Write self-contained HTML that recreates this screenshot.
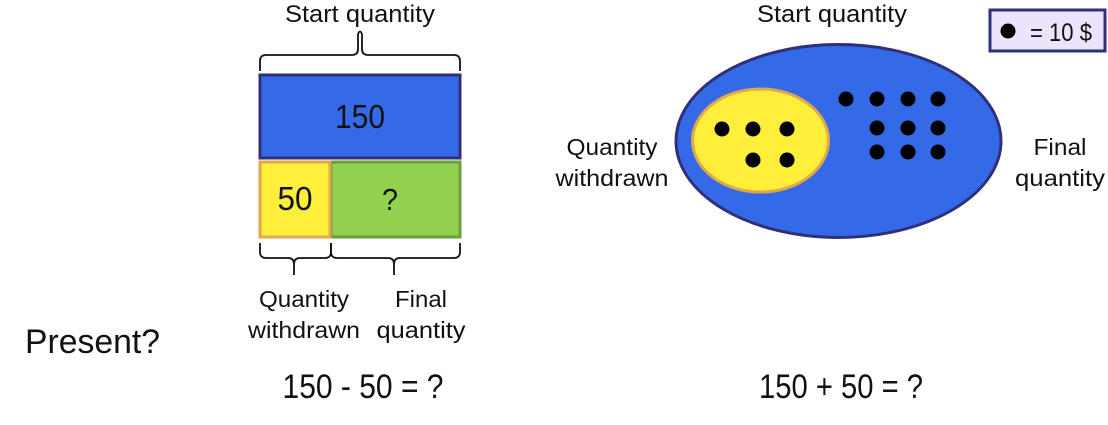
<!DOCTYPE html>
<html><head><meta charset="utf-8"><style>
html,body{margin:0;padding:0;background:#fff;}
svg{display:block;}
text{font-family:"Liberation Sans",sans-serif;fill:#111;}
</style></head><body>
<svg width="1108" height="425" viewBox="0 0 1108 425">
<path d="M260 71 V61 Q260 55 266 55 H352 Q358 55 358 49 V34 M362 34 V49 Q362 55 368 55 H454 Q460 55 460 61 V71" fill="none" stroke="#111" stroke-width="1.8"/>
<path d="M358 34 Q360 29 362 34" fill="none" stroke="#111" stroke-width="1.8"/>
<text x="360" y="22" font-size="24" text-anchor="middle" textLength="150" lengthAdjust="spacingAndGlyphs">Start quantity</text>
<rect x="260" y="75" width="200" height="83" fill="#346ae8" stroke="#2f2f7a" stroke-width="3"/>
<text x="360" y="128" font-size="33" text-anchor="middle" textLength="50" lengthAdjust="spacingAndGlyphs">150</text>
<rect x="331" y="162" width="129" height="75" fill="#92d14f" stroke="#6e9e3a" stroke-width="3"/>
<rect x="260" y="162" width="70" height="75" fill="#ffee3a" stroke="#e0a84a" stroke-width="3"/>
<text x="295" y="210" font-size="33" text-anchor="middle" textLength="35" lengthAdjust="spacingAndGlyphs">50</text>
<text x="390" y="210" font-size="31" text-anchor="middle" textLength="16" lengthAdjust="spacingAndGlyphs">?</text>
<path d="M260 243 V252 Q260 258 266 258 H288 Q294 258 294 264 V275 M294 264 Q294 258 300 258 H325 Q331 258 331 252 V243" fill="none" stroke="#111" stroke-width="1.8"/>
<path d="M331 243 V252 Q331 258 337 258 H388 Q394 258 394 264 V275 M394 264 Q394 258 400 258 H454 Q460 258 460 252 V243" fill="none" stroke="#111" stroke-width="1.8"/>
<text x="304" y="307" font-size="23" text-anchor="middle" textLength="90" lengthAdjust="spacingAndGlyphs">Quantity</text>
<text x="304" y="338" font-size="23" text-anchor="middle" textLength="112" lengthAdjust="spacingAndGlyphs">withdrawn</text>
<text x="421" y="307" font-size="23" text-anchor="middle" textLength="52" lengthAdjust="spacingAndGlyphs">Final</text>
<text x="421" y="338" font-size="23" text-anchor="middle" textLength="89" lengthAdjust="spacingAndGlyphs">quantity</text>
<text x="25" y="353" font-size="34" textLength="135" lengthAdjust="spacingAndGlyphs">Present?</text>
<text x="363" y="398" font-size="34" text-anchor="middle" textLength="161" lengthAdjust="spacingAndGlyphs">150 - 50 = ?</text>
<text x="841" y="398" font-size="34" text-anchor="middle" textLength="164" lengthAdjust="spacingAndGlyphs">150 + 50 = ?</text>
<text x="832" y="22" font-size="24" text-anchor="middle" textLength="150" lengthAdjust="spacingAndGlyphs">Start quantity</text>
<rect x="990" y="10" width="115" height="41" fill="#ece4fc" stroke="#2f2f7a" stroke-width="3"/>
<circle cx="1008" cy="31" r="7.5" fill="#000"/>
<text x="1030" y="41" font-size="25" textLength="62" lengthAdjust="spacingAndGlyphs">= 10 $</text>
<ellipse cx="838.5" cy="141" rx="162.5" ry="96.5" fill="#346ae8" stroke="#2f2f7a" stroke-width="3"/>
<ellipse cx="760.5" cy="140.5" rx="68" ry="51.5" fill="#ffee3a" stroke="#e0a84a" stroke-width="3"/>
<g fill="#000">
<circle cx="722" cy="129" r="7.5"/><circle cx="753" cy="129" r="7.5"/><circle cx="787" cy="129" r="7.5"/>
<circle cx="753" cy="160" r="7.5"/><circle cx="787" cy="160" r="7.5"/>
<circle cx="846" cy="99" r="7.5"/><circle cx="877" cy="99" r="7.5"/><circle cx="908" cy="99" r="7.5"/><circle cx="938" cy="99" r="7.5"/>
<circle cx="877" cy="128" r="7.5"/><circle cx="908" cy="128" r="7.5"/><circle cx="938" cy="128" r="7.5"/>
<circle cx="877" cy="152" r="7.5"/><circle cx="908" cy="152" r="7.5"/><circle cx="938" cy="152" r="7.5"/>
</g>
<text x="612" y="155" font-size="23" text-anchor="middle" textLength="91" lengthAdjust="spacingAndGlyphs">Quantity</text>
<text x="612" y="186" font-size="23" text-anchor="middle" textLength="113" lengthAdjust="spacingAndGlyphs">withdrawn</text>
<text x="1060" y="155" font-size="23" text-anchor="middle" textLength="53" lengthAdjust="spacingAndGlyphs">Final</text>
<text x="1060" y="186" font-size="23" text-anchor="middle" textLength="90" lengthAdjust="spacingAndGlyphs">quantity</text>
</svg>
</body></html>
